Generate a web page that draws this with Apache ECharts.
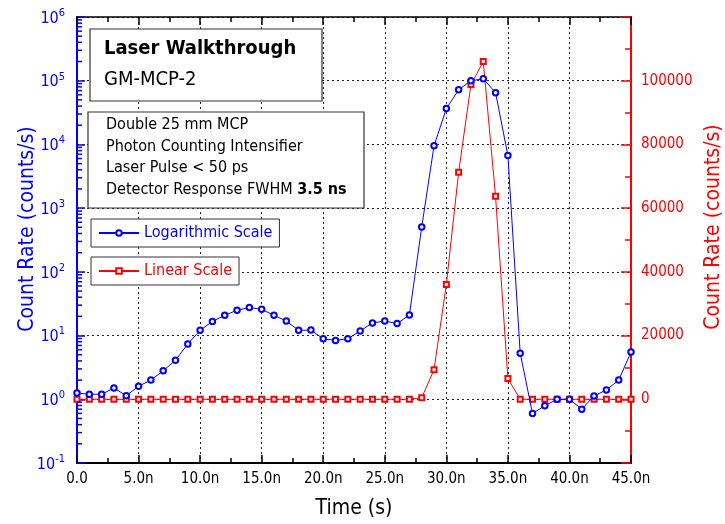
<!DOCTYPE html>
<html>
<head>
<meta charset="utf-8">
<script src="https://cdn.jsdelivr.net/npm/echarts@6/dist/echarts.min.js"></script>
<style>html,body{margin:0;padding:0;background:#fff}#c{width:725px;height:524px}</style>
</head>
<body>
<div id="c"></div>
<script>
// Time in ns
var timeNs = [0,1,2,3,4,5,6,7,8,9,10,11,12,13,14,15,16,17,18,19,20,21,22,23,24,25,26,27,28,29,30,31,32,33,34,35,36,37,38,39,40,41,42,43,44,45];
// Logarithmic scale series (counts/s)
var logScale = [1.25,1.2,1.2,1.5,1.14,1.6,2.0,2.8,4.1,7.4,12.1,16.7,20.8,25,27.5,25.8,20.8,16.9,12.1,12.2,8.9,8.4,8.9,11.8,15.8,16.9,15.4,21,505,9500,36500,72000,100000,107000,65000,6700,5.3,0.6,0.79,1.0,1.0,0.70,1.13,1.4,2.0,5.5];
// Linear scale series (counts/s)
var linScale = [0,0,0,0,0,0,0,0,0,0,0,0,0,0,0,0,0,0,0,0,0,0,0,0,0,0,0,0,500,9300,36000,71300,98800,106000,63700,6500,0,0,0,0,0,0,0,0,0,0];
var xTicks = ['0.0','5.0n','10.0n','15.0n','20.0n','25.0n','30.0n','35.0n','40.0n','45.0n'];
var logMinorTicks = [];
for (var d = -1; d <= 5; d++) { for (var k = 2; k <= 9; k++) logMinorTicks.push(k * Math.pow(10, d)); }

var FONT = "'DejaVu Sans Condensed', 'DejaVu Sans', sans-serif";
var BLUE = '#0000ff', RED = '#ff0000';

var chart = echarts.init(document.getElementById('c'));
var logData = timeNs.map(function (t, i) { return [t, logScale[i]]; });
var linData = timeNs.map(function (t, i) { return [t, linScale[i]]; });

chart.setOption({
  animation: false,
  textStyle: { fontFamily: FONT },
  grid: { left: 77, right: 94, top: 17, bottom: 61, containLabel: false, outerBoundsMode: 'none' },
  xAxis: [{
    type: 'value', min: 0, max: 45, interval: 5, position: 'bottom',
    name: 'Time (s)', nameLocation: 'middle', nameGap: 35, nameMoveOverlap: false,
    nameTextStyle: { color: '#000', fontSize: 21, fontFamily: FONT },
    axisLine: { onZero: false, lineStyle: { color: '#000', width: 2 } },
    axisTick: { inside: true, length: 8, lineStyle: { color: '#000', width: 1.5 } },
    minorTick: { show: true, splitNumber: 2, length: 5, lineStyle: { color: '#000', width: 1.5 } },
    axisLabel: { color: '#000', fontSize: 15, margin: 9, fontFamily: FONT,
      formatter: function (v) { return xTicks[Math.round(v / 5)]; } },
    splitLine: { show: true, lineStyle: { color: '#222', type: [2, 3], width: 1 } }
  }, {
    type: 'value', min: 0, max: 45, interval: 5, position: 'top',
    axisLine: { show: true, onZero: false, lineStyle: { color: '#000', width: 1.5 } },
    axisTick: { inside: true, length: 8, lineStyle: { color: '#000', width: 1.5 } },
    minorTick: { show: true, splitNumber: 2, length: 5, lineStyle: { color: '#000', width: 1.5 } },
    axisLabel: { show: false },
    splitLine: { show: false }
  }],
  yAxis: [{
    type: 'log', logBase: 10, min: 0.1, max: 1e6, position: 'left',
    name: 'Count Rate (counts/s)', nameLocation: 'middle', nameGap: 39, nameMoveOverlap: false,
    nameTextStyle: { color: BLUE, fontSize: 21, fontFamily: FONT, padding: [0, 0, 0, 22] },
    axisLine: { show: true, onZero: false, lineStyle: { color: BLUE, width: 2 } },
    axisTick: { inside: true, length: 8, lineStyle: { color: BLUE, width: 1.5 } },
    minorTick: { show: false },
    axisLabel: { color: BLUE, margin: 12,
      formatter: function (v) { var e = Math.round(Math.log10(v)); return '{b|10}{s|' + e + '}'; },
      rich: { b: { fontSize: 16, color: BLUE, fontFamily: FONT, verticalAlign: 'bottom' },
              s: { fontSize: 11, color: BLUE, fontFamily: FONT, verticalAlign: 'top', padding: [0, 0, 8, 0] } } },
    splitLine: { show: true, lineStyle: { color: '#222', type: [2, 3], width: 1 } }
  }, {
    type: 'value', min: -20000, max: 120000, interval: 20000, position: 'right',
    name: 'Count Rate (counts/s)', nameLocation: 'middle', nameGap: 72, nameRotate: 90, nameMoveOverlap: false,
    nameTextStyle: { color: RED, fontSize: 21, fontFamily: FONT, padding: [0, 0, 0, 26] },
    axisLine: { show: true, onZero: false, lineStyle: { color: RED, width: 2 } },
    axisTick: { inside: true, length: 10, lineStyle: { color: RED, width: 1.5 } },
    minorTick: { show: true, splitNumber: 2, length: 6, lineStyle: { color: RED, width: 1.5 } },
    axisLabel: { color: RED, fontSize: 15, margin: 10, showMinLabel: false, showMaxLabel: false,
      formatter: function (v) { return (v < 0 || v > 100000) ? '' : String(v); } },
    splitLine: { show: false }
  }],
  legend: [{
    data: ['Logarithmic Scale'], left: 91, top: 219, orient: 'horizontal',
    backgroundColor: '#fff', borderColor: '#333', borderWidth: 1, padding: [6, 7, 6, 7],
    itemWidth: 40, itemHeight: 7, itemGap: 4, z: 60,
    textStyle: { color: BLUE, fontSize: 16, fontFamily: FONT }
  }, {
    data: ['Linear Scale'], left: 91, top: 257, orient: 'horizontal',
    backgroundColor: '#fff', borderColor: '#333', borderWidth: 1, padding: [6, 7, 6, 7],
    itemWidth: 40, itemHeight: 7, itemGap: 4, z: 60,
    textStyle: { color: RED, fontSize: 16, fontFamily: FONT }
  }],
  series: [{
    name: 'Logarithmic Scale', type: 'line', xAxisIndex: 0, yAxisIndex: 0, data: logData,
    symbol: 'emptyCircle', symbolSize: 5.5, color: BLUE,
    lineStyle: { color: BLUE, width: 1 }, itemStyle: { color: BLUE, borderColor: BLUE, borderWidth: 1 },
    z: 5, clip: false
  }, {
    name: 'Linear Scale', type: 'line', xAxisIndex: 0, yAxisIndex: 1, data: linData,
    symbol: 'emptyRect', symbolSize: 5, color: RED,
    lineStyle: { color: RED, width: 1 }, itemStyle: { color: RED, borderColor: RED, borderWidth: 1 },
    z: 4
  }, {
    name: 'minorLogTicks', type: 'custom', xAxisIndex: 0, yAxisIndex: 0, silent: true, clip: false,
    data: logMinorTicks.map(function (v) { return [0, v]; }),
    renderItem: function (params, api) {
      var p = api.coord([api.value(0), api.value(1)]);
      return { type: 'line', shape: { x1: p[0], y1: p[1], x2: p[0] + 5, y2: p[1] },
               style: { stroke: BLUE, lineWidth: 1.5 } };
    }, z: 6
  }],
  graphic: [
    { type: 'rect', z: 50, shape: { x: 90, y: 29, width: 232, height: 72 },
      style: { fill: '#fff', stroke: '#333', lineWidth: 1.2 } },
    { type: 'text', z: 51, style: { x: 104, y: 49, text: 'Laser Walkthrough', fill: '#000',
      font: 'bold 20px ' + FONT, verticalAlign: 'middle' } },
    { type: 'text', z: 51, style: { x: 104, y: 80, text: 'GM-MCP-2', fill: '#000',
      font: '20px ' + FONT, verticalAlign: 'middle' } },
    { type: 'rect', z: 50, shape: { x: 88, y: 112, width: 276, height: 96 },
      style: { fill: '#fff', stroke: '#333', lineWidth: 1.2 } },
    { type: 'text', z: 51, style: { x: 106, y: 125, text: 'Double 25 mm MCP', fill: '#000',
      font: '16px ' + FONT, verticalAlign: 'middle' } },
    { type: 'text', z: 51, style: { x: 106, y: 146.5, text: 'Photon Counting Intensifier', fill: '#000',
      font: '16px ' + FONT, verticalAlign: 'middle' } },
    { type: 'text', z: 51, style: { x: 106, y: 168, text: 'Laser Pulse < 50 ps', fill: '#000',
      font: '16px ' + FONT, verticalAlign: 'middle' } },
    { type: 'text', z: 51, style: { x: 106, y: 189.5, text: 'Detector Response FWHM {b|3.5 ns}', fill: '#000',
      font: '16px ' + FONT, verticalAlign: 'middle',
      rich: { b: { fontWeight: 'bold', fontSize: 16, fontFamily: FONT, fill: '#000' } } } }
  ]
});
</script>
</body>
</html>
